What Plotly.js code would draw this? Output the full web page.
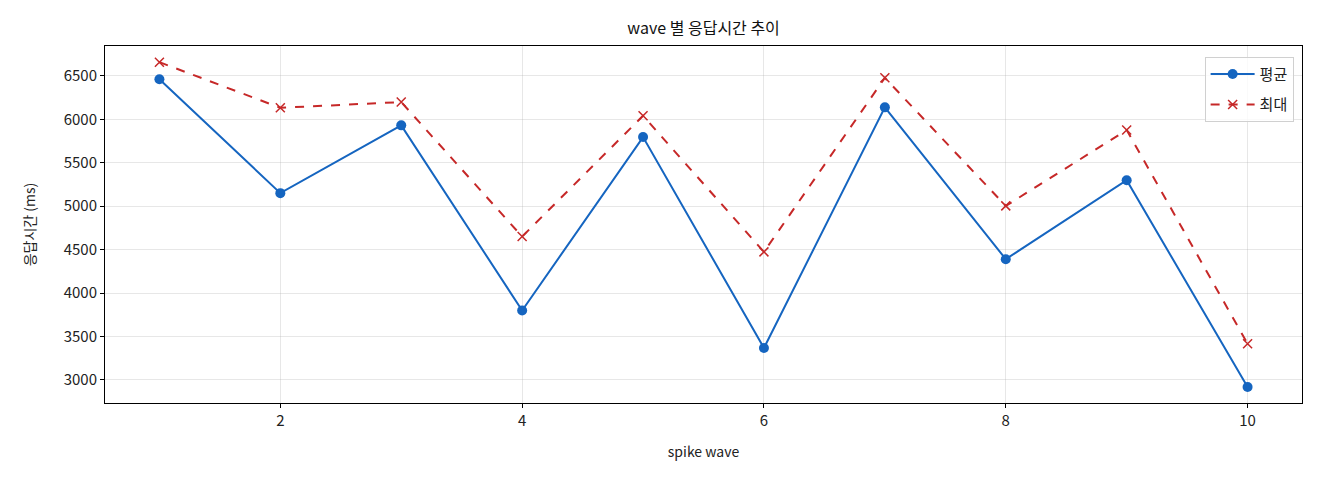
<!DOCTYPE html>
<html>
<head>
<meta charset="utf-8">
<script src="https://cdn.plot.ly/plotly-3.0.1.min.js"></script>
<style>
  html, body { margin: 0; padding: 0; background: #fff; }
  #plot { width: 1320px; height: 480px; }
</style>
</head>
<body>
<div id="plot"></div>
<script>
"use strict";

const waves = [1, 2, 3, 4, 5, 6, 7, 8, 9, 10];
const avgMs = [6460, 5150, 5930, 3800, 5795, 3368, 6137, 4390, 5298, 2920];
const maxMs = [6657, 6132, 6198, 4650, 6040, 4474, 6477, 5003, 5876, 3417];

const blue = "#1565c0";
const red = "#c62828";
const font = "'Noto Sans CJK KR', 'DejaVu Sans', sans-serif";

const data = [
  {
    x: waves,
    y: avgMs,
    type: "scatter",
    mode: "lines+markers",
    name: "평균",
    legendgroup: "avg",
    line: { color: blue, width: 2 },
    marker: { symbol: "circle", size: 10, color: blue },
  },
  {
    x: waves,
    y: maxMs,
    type: "scatter",
    mode: "lines+markers",
    name: "최대",
    legendgroup: "max",
    line: { color: red, width: 2, dash: "dash" },
    marker: { symbol: "x-thin", size: 9, color: red, line: { color: red, width: 1.5 } },
  },
];

const layout = {
  width: 1320,
  height: 480,
  margin: { l: 105, r: 18, t: 46, b: 77 },
  font: { family: font, size: 14, color: "#222" },
  title: {
    text: "wave 별 응답시간 추이",
    font: { size: 16, color: "#111" },
    x: 0.533,
    xanchor: "center",
    y: 0.94,
    yanchor: "middle",
  },
  xaxis: {
    range: [0.55, 10.45],
    dtick: 2,
    tick0: 0,
    showgrid: true,
    gridcolor: "rgba(176,176,176,0.3)",
    zeroline: false,
    showline: true,
    linecolor: "#000",
    linewidth: 1,
    mirror: true,
    ticks: "outside",
    ticklen: 4,
    tickcolor: "#000",
    tickfont: { size: 15 },
    title: { text: "spike wave", font: { size: 14 }, standoff: 18 },
  },
  yaxis: {
    range: [2735, 6843],
    dtick: 500,
    tick0: 0,
    showgrid: true,
    gridcolor: "rgba(176,176,176,0.3)",
    zeroline: false,
    showline: true,
    linecolor: "#000",
    linewidth: 1,
    mirror: true,
    ticks: "outside",
    ticklen: 4,
    tickcolor: "#000",
    tickformat: "d",
    tickfont: { size: 15 },
    title: { text: "응답시간 (ms)", font: { size: 14 }, standoff: 24 },
  },
  legend: {
    x: 0.993,
    y: 0.97,
    xanchor: "right",
    yanchor: "top",
    bgcolor: "rgba(255,255,255,0.8)",
    bordercolor: "#d0d0d0",
    borderwidth: 1,
    tracegroupgap: 8,
    itemwidth: 44,
    font: { size: 15 },
  },
  plot_bgcolor: "#fff",
  paper_bgcolor: "#fff",
  showlegend: true,
};

Plotly.newPlot("plot", data, layout, { displayModeBar: false, staticPlot: true });
</script>
</body>
</html>
